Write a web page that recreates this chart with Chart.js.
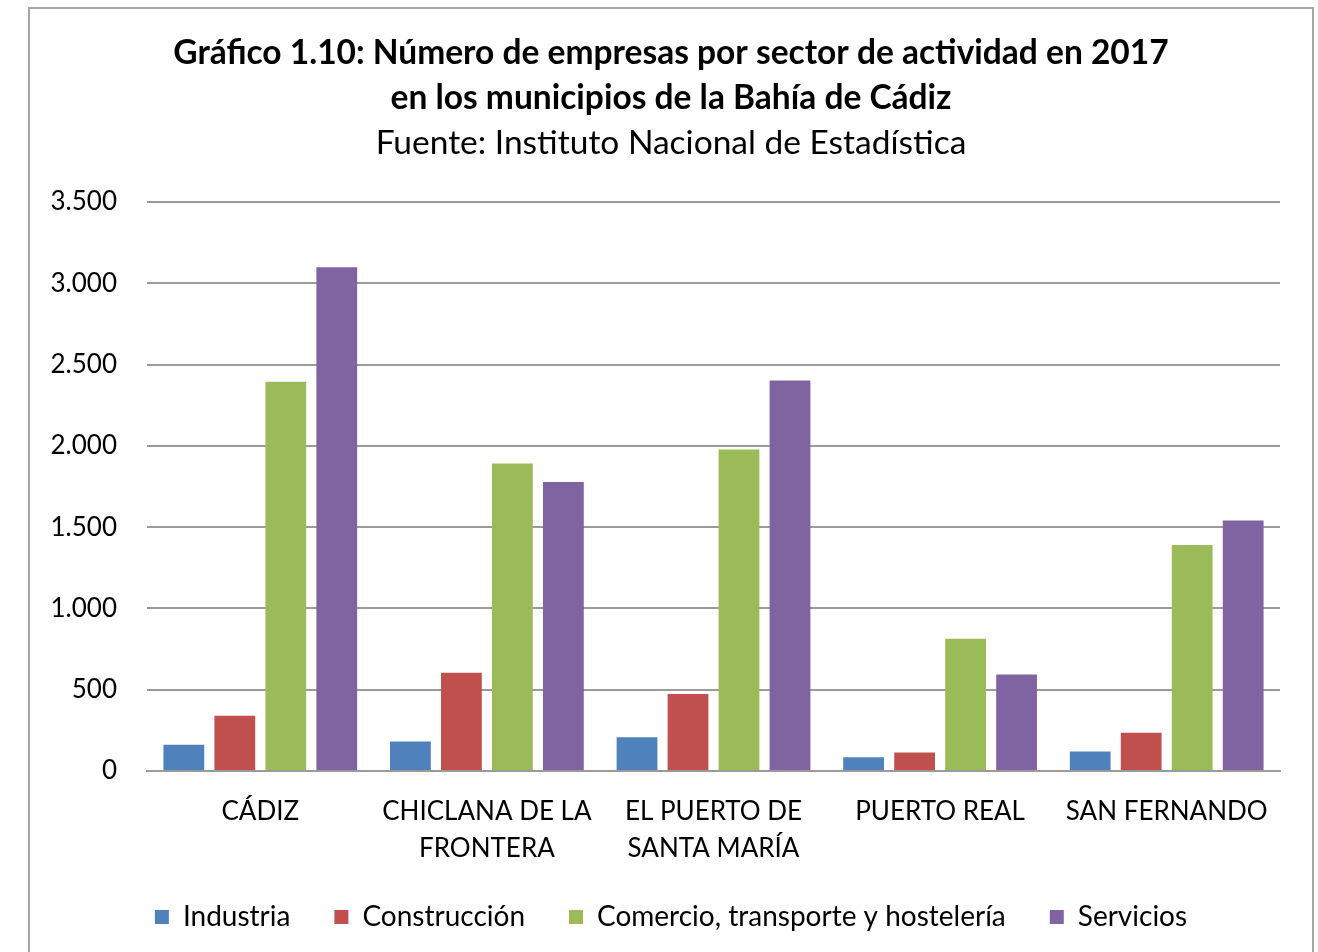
<!DOCTYPE html>
<html>
<head>
<meta charset="utf-8">
<script src="https://cdn.jsdelivr.net/npm/chart.js@4.4.1/dist/chart.umd.min.js"></script>
<style>
    html, body { margin: 0; padding: 0; background: #ffffff; overflow: hidden; }
    #frame {
        position: absolute;
        left: 28px;
        top: 7px;
        width: 1282px;
        height: 960px;
        border: 2px solid #a6a6a6;
        background: #ffffff;
    }
    #chartBox { position: relative; width: 1282px; height: 960px; }
</style>
</head>
<body>
<div id="frame">
    <div id="chartBox"><canvas id="empresasChart"></canvas></div>
</div>
<script>
// municipios (categorías del eje X)
const municipios = [
    'CÁDIZ',
    ['CHICLANA DE LA', 'FRONTERA'],
    ['EL PUERTO DE', 'SANTA MARÍA'],
    'PUERTO REAL',
    'SAN FERNANDO'
];

// número de empresas por sector
const industria    = [162, 182, 208, 84, 120];
const construccion = [340, 605, 474, 114, 235];
const comercio     = [2394, 1891, 1978, 814, 1390];
const servicios    = [3099, 1777, 2402, 594, 1541];

const sectores = ['Industria', 'Construcción', 'Comercio, transporte y hostelería', 'Servicios'];
const colores  = ['#4f81bd', '#c0504d', '#9bbb59', '#8064a2'];

const yTicks = [0, 500, 1000, 1500, 2000, 2500, 3000, 3500];

const fontFamily = 'Lato, "Open Sans", sans-serif';

document.addEventListener('DOMContentLoaded', function () {
    const ctx = document.getElementById('empresasChart').getContext('2d');
    const series = [industria, construccion, comercio, servicios];

    const dataSets = series.map(function (values, i) {
        return {
            label: sectores[i],
            data: values,
            backgroundColor: colores[i],
            borderWidth: 0,
            categoryPercentage: 0.9,
            barPercentage: 0.8
        };
    });

    new Chart(ctx, {
        type: 'bar',
        data: {
            labels: municipios,
            datasets: dataSets
        },
        options: {
            responsive: true,
            maintainAspectRatio: false,
            animation: false,
            layout: {
                padding: { left: 0, right: 0, top: 0, bottom: 28 }
            },
            plugins: {
                title: {
                    display: true,
                    text: ['Gráfico 1.10: Número de empresas por sector de actividad en 2017',
                           'en los municipios de la Bahía de Cádiz'],
                    color: '#000000',
                    font: { family: fontFamily, size: 33.5, weight: 'bold', lineHeight: 1.343 },
                    padding: { top: 22, bottom: 0 }
                },
                subtitle: {
                    display: true,
                    text: 'Fuente: Instituto Nacional de Estadística',
                    color: '#000000',
                    font: { family: fontFamily, size: 33.5, weight: 'normal', lineHeight: 1.343 },
                    padding: { top: 0, bottom: 36 }
                },
                legend: {
                    position: 'bottom',
                    labels: {
                        color: '#000000',
                        font: { family: fontFamily, size: 28 },
                        boxWidth: 14,
                        boxHeight: 14,
                        padding: 44
                    }
                },
                tooltip: { enabled: false }
            },
            scales: {
                x: {
                    afterFit: function (scale) { scale.height = 88; },
                    grid: { display: false, drawTicks: false },
                    border: { display: true, color: '#9a9a9a', width: 2 },
                    ticks: {
                        color: '#000000',
                        font: { family: fontFamily, size: 26, lineHeight: 1.42 },
                        padding: 22,
                        maxRotation: 0,
                        autoSkip: false
                    }
                },
                y: {
                    min: 0,
                    max: 3500,
                    afterFit: function (scale) { scale.width = 117; },
                    afterBuildTicks: function (scale) {
                        scale.ticks = yTicks.map(function (v) { return { value: v }; });
                    },
                    grid: { color: '#9a9a9a', lineWidth: 2, drawTicks: false },
                    border: { display: false },
                    ticks: {
                        color: '#000000',
                        font: { family: fontFamily, size: 26 },
                        padding: 30,
                        callback: function (value) {
                            return value.toLocaleString('de-DE');
                        }
                    }
                },
                // eje vacío a la derecha, solo para dejar el margen y centrar el título
                margenDerecho: {
                    type: 'linear',
                    position: 'right',
                    afterFit: function (scale) { scale.width = 32; },
                    grid: { display: false, drawTicks: false },
                    border: { display: false },
                    ticks: { display: false }
                }
            }
        }
    });
});
</script>
</body>
</html>
